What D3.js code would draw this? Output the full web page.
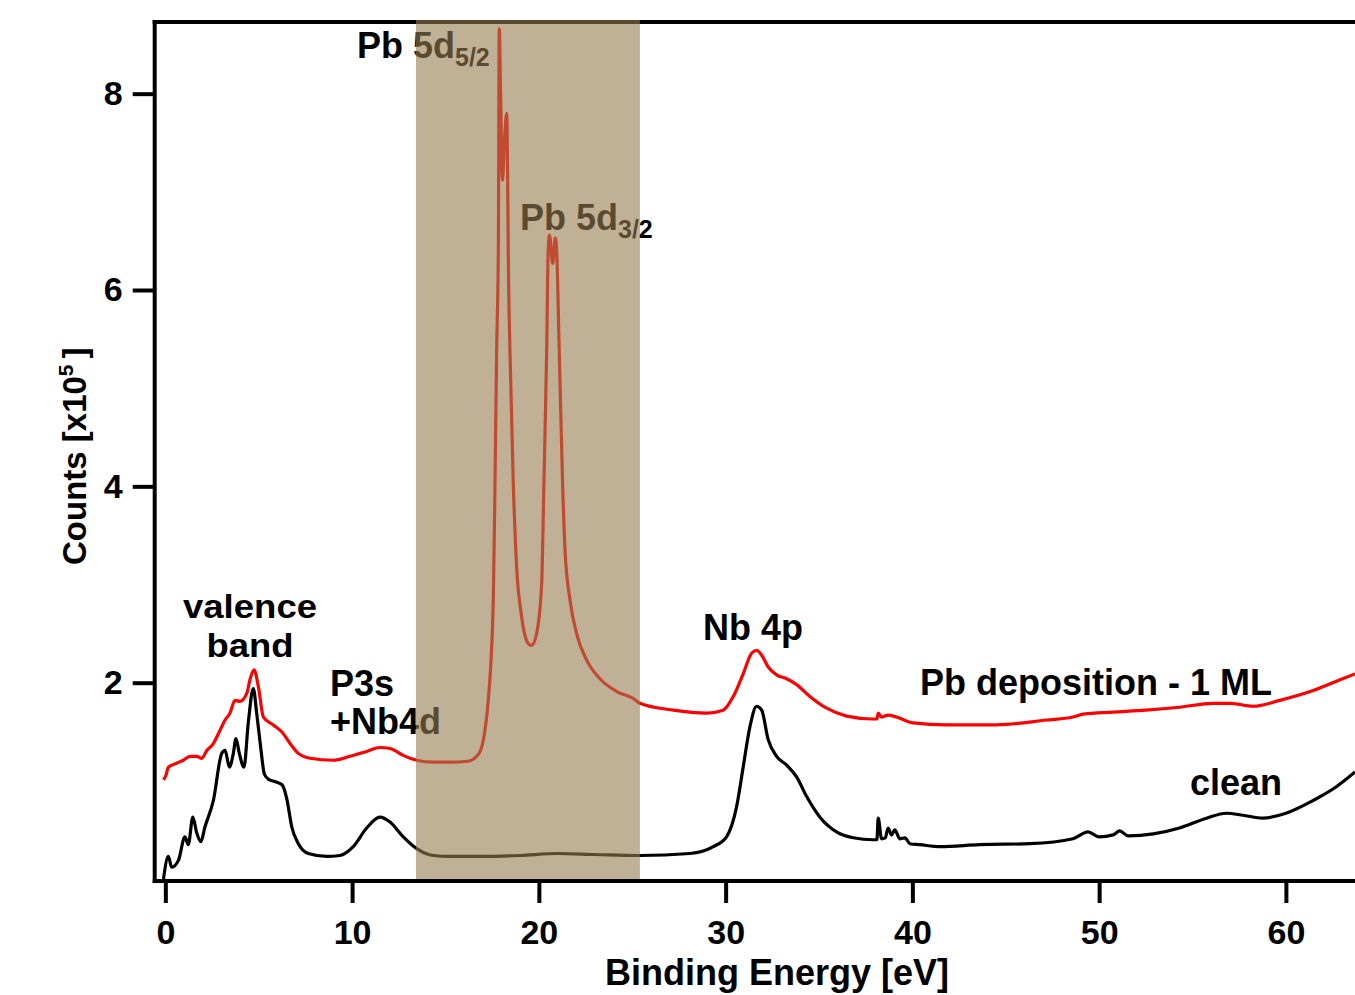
<!DOCTYPE html>
<html>
<head>
<meta charset="utf-8">
<script src="https://cdn.jsdelivr.net/npm/d3@7"></script>
<style>
  html, body { margin: 0; padding: 0; background: #fff; }
  svg { display: block; }
  text { font-family: "Liberation Sans", Arial, Helvetica, sans-serif; font-weight: bold; }
</style>
</head>
<body>
<svg id="chart" width="1355" height="995"></svg>
<script>
// ---------------- data ----------------
const xTicks = [0, 10, 20, 30, 40, 50, 60];
const yTicks = [2, 4, 6, 8];
const bandRange = [13.42, 25.41];

const cleanEnergy = [-0.1,0.16,0.34,0.7,1.05,1.23,1.47,1.68,1.9,2.12,2.57,3.02,3.2,3.43,3.64,3.78,3.96,4.21,4.44,4.71,4.89,5.1,5.3,5.5,5.9,6.25,6.5,6.77,7.12,7.66,8.64,9.35,10.06,10.78,11.49,12.03,12.74,13.46,14.35,15.24,17,19,21,23,25.41,28.09,29.34,30.05,30.59,30.94,31.3,31.66,31.93,32.28,32.73,33.27,33.8,34.34,35.05,35.94,36.83,37.9,38.1,38.17,38.35,38.55,38.7,38.89,39.06,39.33,39.6,39.87,40.4,41.47,43.6,46.3,48.6,49.4,50.0,50.75,51.1,51.55,52.9,54.3,55.75,56.82,57.7,58.77,60.0,61.46,62.7,63.7];
const cleanCounts = [0.0,0.23,0.12,0.19,0.43,0.35,0.63,0.47,0.38,0.53,0.80,1.28,1.31,1.14,1.28,1.43,1.28,1.14,1.59,1.94,1.69,1.35,1.07,1.02,0.99,0.96,0.82,0.53,0.36,0.26,0.23,0.24,0.33,0.52,0.63,0.58,0.43,0.31,0.24,0.23,0.23,0.24,0.26,0.25,0.24,0.26,0.33,0.43,0.74,1.14,1.55,1.76,1.72,1.42,1.25,1.16,1.04,0.84,0.63,0.48,0.42,0.40,0.40,0.62,0.41,0.42,0.52,0.45,0.50,0.41,0.42,0.36,0.35,0.33,0.35,0.36,0.41,0.48,0.43,0.45,0.49,0.44,0.46,0.52,0.62,0.67,0.65,0.62,0.67,0.80,0.94,1.09];

const pbEnergy = [-0.1,0.04,0.16,0.61,0.96,1.32,1.68,1.95,2.22,2.57,2.84,3.2,3.46,3.73,4.0,4.36,4.53,4.75,4.98,5.25,5.78,6.23,6.68,7.12,7.75,8.99,9.89,10.78,11.49,12.03,12.74,13.46,14.35,15.24,16.2,16.8,17.1,17.29,17.56,17.65,17.74,17.83,17.88,17.95,18.05,18.18,18.28,18.33,18.36,18.45,18.63,18.81,19.08,19.43,19.61,19.88,20.15,20.27,20.42,20.5,20.57,20.74,20.88,20.95,21.09,21.27,21.4,21.67,22.02,22.56,23.27,24.17,25.05,25.41,27.2,28.98,29.87,30.41,30.94,31.39,31.66,31.93,32.28,32.73,33.27,33.8,34.51,35.41,36.48,37.9,38.1,38.17,38.35,38.7,39.15,40.04,41.83,44.51,47.19,48.6,49.15,50.75,52.5,54.3,56.1,57.0,58.25,59.67,61.46,62.9,63.7];
const pbCounts = [1.01,1.06,1.14,1.18,1.21,1.25,1.25,1.23,1.31,1.38,1.48,1.62,1.69,1.82,1.81,1.89,2.03,2.13,1.96,1.65,1.57,1.50,1.38,1.28,1.23,1.21,1.25,1.30,1.34,1.33,1.26,1.21,1.19,1.19,1.2,1.28,1.5,1.82,2.84,4.03,5.39,6.41,8.66,8.0,7.12,7.6,7.80,7.1,6.41,5.39,4.03,3.18,2.67,2.40,2.38,2.50,3.01,4.03,5.39,6.41,6.56,6.27,6.53,6.41,5.39,4.03,3.35,2.84,2.50,2.23,2.04,1.91,1.84,1.79,1.72,1.69,1.72,1.86,2.09,2.30,2.33,2.28,2.16,2.08,2.04,1.98,1.86,1.74,1.66,1.63,1.63,1.69,1.65,1.67,1.65,1.59,1.57,1.57,1.62,1.65,1.68,1.70,1.72,1.75,1.79,1.79,1.76,1.82,1.92,2.03,2.09];

// ---------------- chart ----------------
const svg = d3.select("#chart");
const x = d3.scaleLinear().domain([-0.57, 63.7]).range([154.7, 1355]);
const y = d3.scaleLinear().domain([-0.02, 8.73]).range([881, 22]);

svg.append("defs").append("clipPath").attr("id", "plotclip")
  .append("rect").attr("x", x.range()[0]).attr("y", y.range()[1])
  .attr("width", x.range()[1] - x.range()[0]).attr("height", y.range()[0] - y.range()[1]);

// axes
const xAxis = svg.append("g").attr("transform", `translate(0,${y.range()[0]})`)
  .call(d3.axisBottom(x).tickValues(xTicks).tickSize(22).tickSizeOuter(0).tickPadding(17).tickFormat(d3.format("d")));
const yAxis = svg.append("g").attr("transform", `translate(${x.range()[0]},0)`)
  .call(d3.axisLeft(y).tickValues(yTicks).tickSize(22).tickSizeOuter(0).tickPadding(10).tickFormat(d3.format("d")));
[xAxis, yAxis].forEach(g => {
  g.select(".domain").remove();
  g.selectAll(".tick line").attr("stroke", "#000").attr("stroke-width", 4);
  g.selectAll(".tick text").attr("fill", "#000").style("font-size", "34px")
    .style("font-family", '"Liberation Sans", Arial, sans-serif').style("font-weight", "bold");
});

// frame lines
const frame = svg.append("g").attr("stroke", "#000").attr("stroke-width", 4).attr("fill", "none");
frame.append("line").attr("x1", x.range()[0] - 2).attr("x2", 1355).attr("y1", y.range()[0]).attr("y2", y.range()[0]);
frame.append("line").attr("x1", x.range()[0]).attr("x2", x.range()[0]).attr("y1", y.range()[1] - 2).attr("y2", y.range()[0] + 2);
frame.append("line").attr("x1", x.range()[0] - 2).attr("x2", 1355).attr("y1", y.range()[1]).attr("y2", y.range()[1]);

// lines
const line = d3.line().x(d => x(d[0])).y(d => y(d[1])).curve(d3.curveMonotoneX);
const cleanData = cleanEnergy.map((e, i) => [e, cleanCounts[i]]);
const pbData = pbEnergy.map((e, i) => [e, pbCounts[i]]);
const plot = svg.append("g").attr("clip-path", "url(#plotclip)");
plot.append("path").datum(cleanData).attr("d", line)
  .attr("fill", "none").attr("stroke", "#000").attr("stroke-width", 3.2).attr("stroke-linejoin", "round");
plot.append("path").datum(pbData).attr("d", line)
  .attr("fill", "none").attr("stroke", "#ff0000").attr("stroke-width", 3.2).attr("stroke-linejoin", "round");

// annotations
const ann = svg.append("g").attr("fill", "#000").style("font-size", "36px");
function addText(txt, px, py, anchor, size) {
  const t = ann.append("text").attr("x", px).attr("y", py).attr("text-anchor", anchor || "start").text(txt);
  if (size) t.style("font-size", size + "px");
  return t;
}
const t1 = ann.append("text").attr("x", 357).attr("y", 58);
t1.append("tspan").text("Pb 5d");
t1.append("tspan").attr("dy", 8).style("font-size", "25px").text("5/2");
const t2 = ann.append("text").attr("x", 520).attr("y", 230);
t2.append("tspan").text("Pb 5d");
t2.append("tspan").attr("dy", 8).style("font-size", "25px").text("3/2");
addText("valence", 250, 618, "middle", 34).attr("textLength", 134).attr("lengthAdjust", "spacingAndGlyphs");
addText("band", 250, 657, "middle", 34).attr("textLength", 87).attr("lengthAdjust", "spacingAndGlyphs");
addText("P3s", 330, 696);
addText("+Nb4d", 330, 734);
addText("Nb 4p", 703, 640);
addText("Pb deposition - 1 ML", 920, 695);
addText("clean", 1190, 795);

// axis titles
svg.append("text").attr("x", 777).attr("y", 985).attr("text-anchor", "middle")
  .style("font-size", "36px").text("Binding Energy [eV]");
const yt = svg.append("text").attr("transform", "translate(86,565) rotate(-90)")
  .attr("text-anchor", "start").style("font-size", "33px");
yt.append("tspan").text("Counts [x10");
yt.append("tspan").attr("dy", -13).style("font-size", "21px").text("5");
yt.append("tspan").attr("dy", 13).attr("dx", 6).text("]");

// shaded band (semi-transparent overlay)
svg.append("rect")
  .attr("x", x(bandRange[0])).attr("width", x(bandRange[1]) - x(bandRange[0]))
  .attr("y", y.range()[1] - 2).attr("height", y(0) - y.range()[1] + 2)
  .attr("fill", "rgb(150,125,80)").attr("fill-opacity", 0.6);
</script>
</body>
</html>
